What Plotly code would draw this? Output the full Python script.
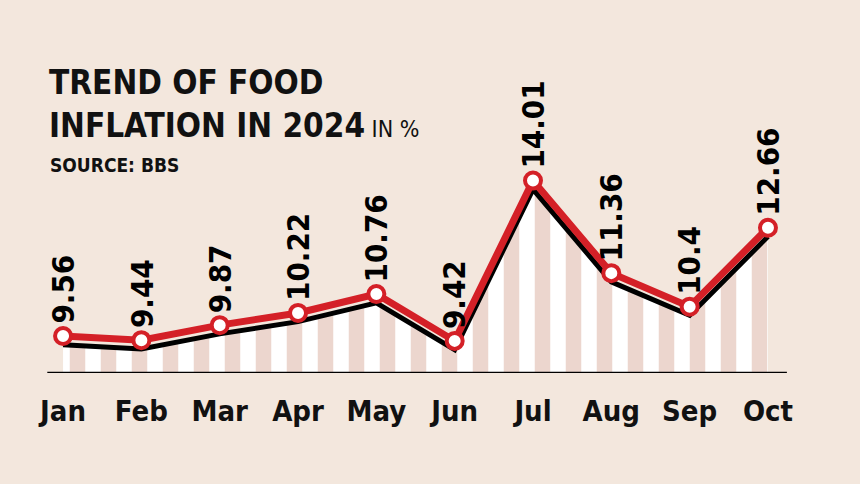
import plotly.graph_objects as go

months = ["Jan","Feb","Mar","Apr","May","Jun","Jul","Aug","Sep","Oct"]
values = [9.56, 9.44, 9.87, 10.22, 10.76, 9.42, 14.01, 11.36, 10.4, 12.66]
labels = ["9.56","9.44","9.87","10.22","10.76","9.42","14.01","11.36","10.4","12.66"]

x = list(range(len(months)))
shadow = [v - 0.25 for v in values]
F = "DejaVu Sans Condensed"
fig = go.Figure()
fig.add_trace(go.Scatter(x=x, y=shadow, mode="lines", line=dict(color="black", width=5),
    fill="tozeroy", fillcolor="white",
    fillpattern=dict(shape="|", bgcolor="white", fgcolor="#d9ae9e", size=31, solidity=0.5)))
fig.add_trace(go.Scatter(x=x, y=values, mode="lines+markers",
    line=dict(color="#d42027", width=7),
    marker=dict(size=16, color="white", line=dict(color="#d42027", width=4))))
for xi, v, t in zip(x, values, labels):
    fig.add_annotation(x=xi, y=v, text=f"<b>{t}</b>", textangle=-90, showarrow=False,
        yanchor="bottom", yshift=10, font=dict(family=F, size=31, color="black"))
fig.add_shape(type="line", xref="paper", yref="y", x0=0.055, x1=0.915, y0=8.5, y1=8.5,
    line=dict(color="black", width=2.5))
fig.add_annotation(xref="paper", yref="paper", x=0.055, y=0.875, xanchor="left", yanchor="top",
    showarrow=False, align="left",
    text="<b>TREND OF FOOD<br>INFLATION IN 2024</b><span style='font-size:23px'> IN %</span>",
    font=dict(family=F, size=33, color="#111111"))
fig.add_annotation(xref="paper", yref="paper", x=0.056, y=0.685, xanchor="left", yanchor="top",
    showarrow=False, text="<b>SOURCE: BBS</b>", font=dict(family=F, size=19, color="#111111"))
fig.update_layout(width=860, height=484, margin=dict(l=0, r=0, t=0, b=0),
    paper_bgcolor="#f3e7dd", plot_bgcolor="rgba(0,0,0,0)", showlegend=False,
    xaxis=dict(range=[-0.805, 10.175], tickvals=x, ticktext=[f"<b>{m}</b>" for m in months],
        showgrid=False, zeroline=False, ticks="", ticklabelstandoff=18,
        tickfont=dict(family=F, size=29, color="#111111"), domain=[0, 1]),
    yaxis=dict(range=[8.5, 14.6], visible=False, domain=[111/484, 324/484]))
fig.write_html("out.html", config={"displayModeBar": False})
with open("out.html") as f:
    html = f.read()
html = html.replace("<body>", "<body style=\"margin:0;background:#f3e7dd\">", 1)
with open("out.html", "w") as f:
    f.write(html)
